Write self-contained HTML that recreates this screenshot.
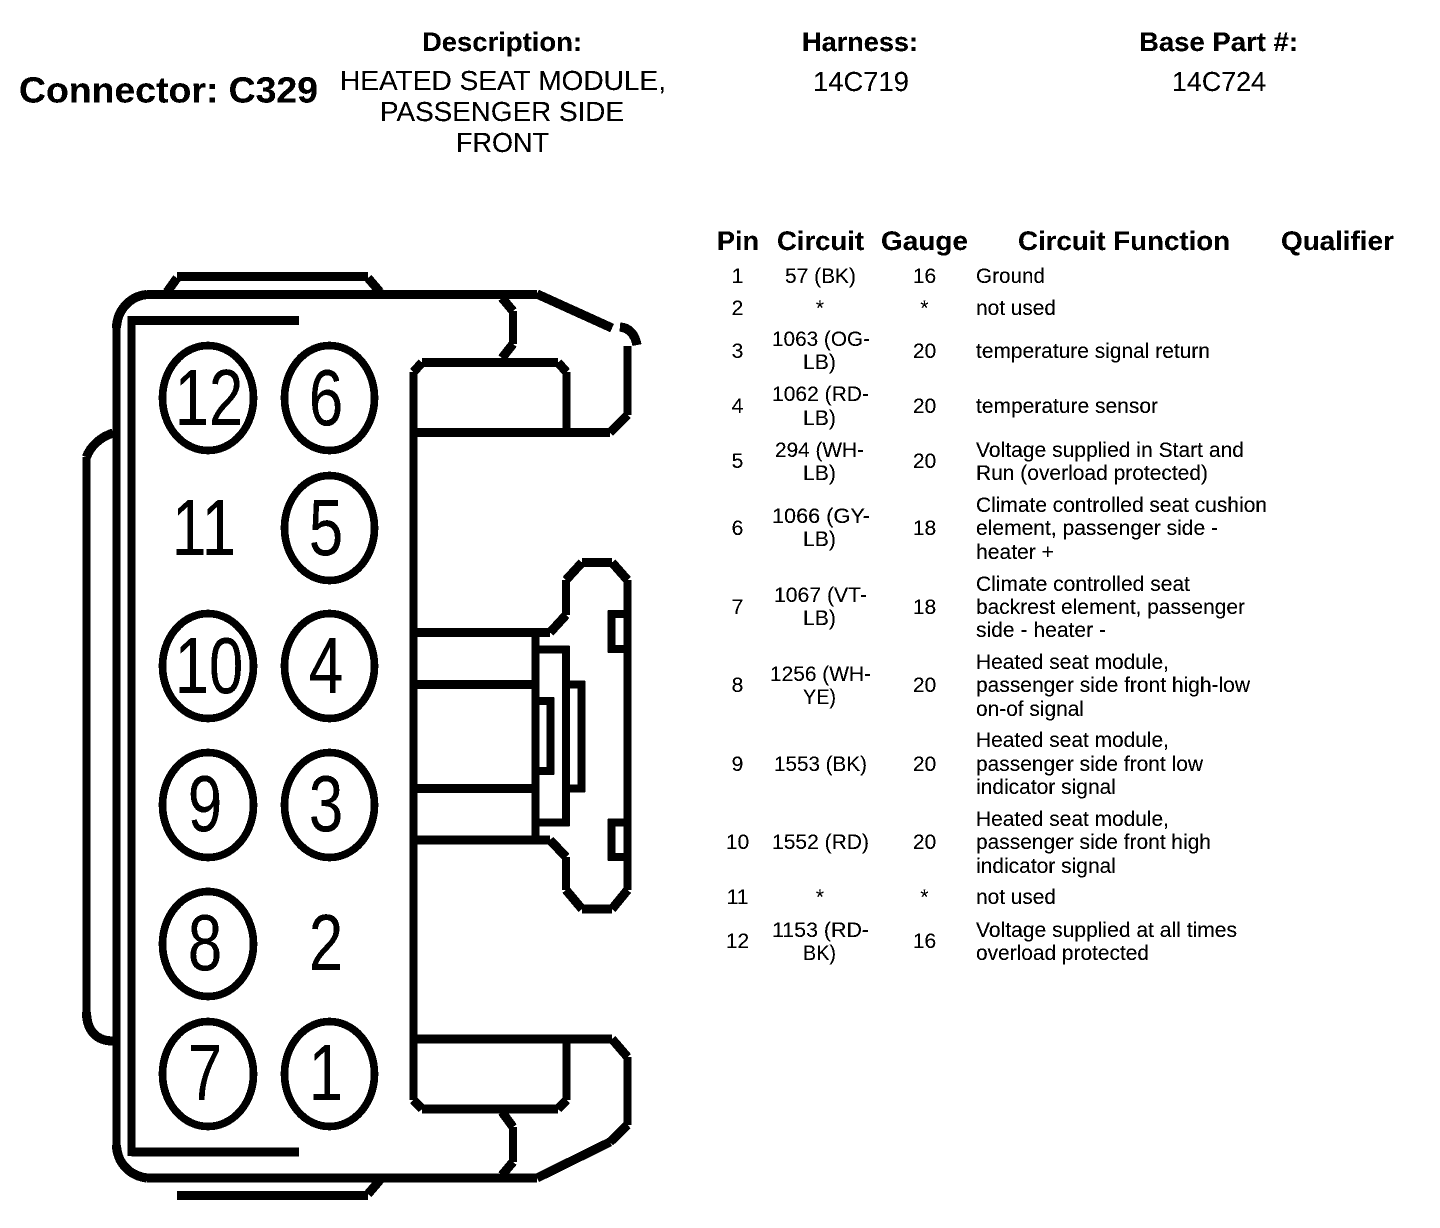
<!DOCTYPE html>
<html><head><meta charset="utf-8"><title>Connector C329</title>
<style>
html,body{margin:0;padding:0;background:#fff;width:1440px;height:1228px;overflow:hidden}
svg{display:block;filter:url(#bw)}
text{font-family:"Liberation Sans",Arial,sans-serif;fill:#000}
.b{font-weight:700}
.h{font-size:27px;font-weight:700}
.m{font-size:27.5px}
.t{font-size:21px}
.n{font-size:80px;text-anchor:middle}
.s{fill:none;stroke:#000;stroke-width:8}
.v{stroke-width:7.5}
.w{stroke-width:9}
</style></head><body>
<svg xmlns="http://www.w3.org/2000/svg" width="1440" height="1228" viewBox="0 0 1440 1228">
<defs><filter id="bw" x="0" y="0" width="100%" height="100%" color-interpolation-filters="sRGB"><feComponentTransfer><feFuncR type="discrete" tableValues="0 0 1"/><feFuncG type="discrete" tableValues="0 0 1"/><feFuncB type="discrete" tableValues="0 0 1"/></feComponentTransfer></filter></defs>
<rect width="1440" height="1228" fill="#fff"/>

<!-- Header -->
<text class="b" x="19" y="102.5" font-size="36" textLength="299" lengthAdjust="spacingAndGlyphs">Connector: C329</text>
<text class="h" x="422" y="51" textLength="160" lengthAdjust="spacingAndGlyphs">Description:</text>
<text class="h" x="802" y="51" textLength="116" lengthAdjust="spacingAndGlyphs">Harness:</text>
<text class="h" x="1139" y="51" textLength="159" lengthAdjust="spacingAndGlyphs">Base Part #:</text>
<text class="m" x="340" y="90" textLength="326" lengthAdjust="spacingAndGlyphs">HEATED SEAT MODULE,</text>
<text class="m" x="380" y="121" textLength="244" lengthAdjust="spacingAndGlyphs">PASSENGER SIDE</text>
<text class="m" x="456" y="152" textLength="93" lengthAdjust="spacingAndGlyphs">FRONT</text>
<text class="m" x="813" y="91" textLength="96" lengthAdjust="spacingAndGlyphs">14C719</text>
<text class="m" x="1172" y="91" textLength="94" lengthAdjust="spacingAndGlyphs">14C724</text>

<!-- Table head -->
<text class="h" x="717" y="250" textLength="42" lengthAdjust="spacingAndGlyphs">Pin</text>
<text class="h" x="777" y="250" textLength="87" lengthAdjust="spacingAndGlyphs">Circuit</text>
<text class="h" x="881" y="250" textLength="87" lengthAdjust="spacingAndGlyphs">Gauge</text>
<text class="h" x="1018" y="250" textLength="212" lengthAdjust="spacingAndGlyphs">Circuit Function</text>
<text class="h" x="1281" y="250" textLength="113" lengthAdjust="spacingAndGlyphs">Qualifier</text>

<!-- Pin column -->
<g class="t" text-anchor="middle">
<text class="t" x="737.5" y="283">1</text>
<text class="t" x="737.5" y="315">2</text>
<text class="t" x="737.5" y="358">3</text>
<text class="t" x="737.5" y="413">4</text>
<text class="t" x="737.5" y="468">5</text>
<text class="t" x="737.5" y="535">6</text>
<text class="t" x="737.5" y="614">7</text>
<text class="t" x="737.5" y="692">8</text>
<text class="t" x="737.5" y="771">9</text>
<text class="t" x="737.5" y="849">10</text>
<text class="t" x="737.5" y="904">11</text>
<text class="t" x="737.5" y="948">12</text>
</g>

<!-- Circuit column -->
<text class="t" x="785" y="283" textLength="71" lengthAdjust="spacingAndGlyphs">57 (BK)</text>
<text class="t" x="820" y="315" text-anchor="middle">*</text>
<text class="t" x="772" y="346" textLength="98" lengthAdjust="spacingAndGlyphs">1063 (OG-</text>
<text class="t" x="803" y="369" textLength="33" lengthAdjust="spacingAndGlyphs">LB)</text>
<text class="t" x="772" y="401" textLength="97" lengthAdjust="spacingAndGlyphs">1062 (RD-</text>
<text class="t" x="803" y="425" textLength="33" lengthAdjust="spacingAndGlyphs">LB)</text>
<text class="t" x="775" y="457" textLength="89" lengthAdjust="spacingAndGlyphs">294 (WH-</text>
<text class="t" x="803" y="480" textLength="33" lengthAdjust="spacingAndGlyphs">LB)</text>
<text class="t" x="772" y="523" textLength="98" lengthAdjust="spacingAndGlyphs">1066 (GY-</text>
<text class="t" x="803" y="546" textLength="33" lengthAdjust="spacingAndGlyphs">LB)</text>
<text class="t" x="774" y="602" textLength="93" lengthAdjust="spacingAndGlyphs">1067 (VT-</text>
<text class="t" x="803" y="625" textLength="33" lengthAdjust="spacingAndGlyphs">LB)</text>
<text class="t" x="770" y="681" textLength="101" lengthAdjust="spacingAndGlyphs">1256 (WH-</text>
<text class="t" x="803" y="704" textLength="33" lengthAdjust="spacingAndGlyphs">YE)</text>
<text class="t" x="774" y="771" textLength="93" lengthAdjust="spacingAndGlyphs">1553 (BK)</text>
<text class="t" x="772" y="849" textLength="97" lengthAdjust="spacingAndGlyphs">1552 (RD)</text>
<text class="t" x="820" y="904" text-anchor="middle">*</text>
<text class="t" x="772" y="937" textLength="97" lengthAdjust="spacingAndGlyphs">1153 (RD-</text>
<text class="t" x="803" y="960" textLength="33" lengthAdjust="spacingAndGlyphs">BK)</text>

<!-- Gauge column -->
<text class="t" x="924.5" y="283" text-anchor="middle">16</text>
<text class="t" x="924.5" y="315" text-anchor="middle">*</text>
<text class="t" x="924.5" y="358" text-anchor="middle">20</text>
<text class="t" x="924.5" y="413" text-anchor="middle">20</text>
<text class="t" x="924.5" y="468" text-anchor="middle">20</text>
<text class="t" x="924.5" y="535" text-anchor="middle">18</text>
<text class="t" x="924.5" y="614" text-anchor="middle">18</text>
<text class="t" x="924.5" y="692" text-anchor="middle">20</text>
<text class="t" x="924.5" y="771" text-anchor="middle">20</text>
<text class="t" x="924.5" y="849" text-anchor="middle">20</text>
<text class="t" x="924.5" y="904" text-anchor="middle">*</text>
<text class="t" x="924.5" y="948" text-anchor="middle">16</text>

<!-- Function column -->
<text class="t" x="976" y="283" textLength="69" lengthAdjust="spacingAndGlyphs">Ground</text>
<text class="t" x="976" y="315" textLength="80" lengthAdjust="spacingAndGlyphs">not used</text>
<text class="t" x="976" y="358" textLength="234" lengthAdjust="spacingAndGlyphs">temperature signal return</text>
<text class="t" x="976" y="413" textLength="182" lengthAdjust="spacingAndGlyphs">temperature sensor</text>
<text class="t" x="976" y="457" textLength="268" lengthAdjust="spacingAndGlyphs">Voltage supplied in Start and</text>
<text class="t" x="976" y="480" textLength="232" lengthAdjust="spacingAndGlyphs">Run (overload protected)</text>
<text class="t" x="976" y="512" textLength="291" lengthAdjust="spacingAndGlyphs">Climate controlled seat cushion</text>
<text class="t" x="976" y="535" textLength="242" lengthAdjust="spacingAndGlyphs">element, passenger side -</text>
<text class="t" x="976" y="559" textLength="78" lengthAdjust="spacingAndGlyphs">heater +</text>
<text class="t" x="976" y="591" textLength="214" lengthAdjust="spacingAndGlyphs">Climate controlled seat</text>
<text class="t" x="976" y="614" textLength="269" lengthAdjust="spacingAndGlyphs">backrest element, passenger</text>
<text class="t" x="976" y="637" textLength="130" lengthAdjust="spacingAndGlyphs">side - heater -</text>
<text class="t" x="976" y="669" textLength="193" lengthAdjust="spacingAndGlyphs">Heated seat module,</text>
<text class="t" x="976" y="692" textLength="274" lengthAdjust="spacingAndGlyphs">passenger side front high-low</text>
<text class="t" x="976" y="716" textLength="108" lengthAdjust="spacingAndGlyphs">on-of signal</text>
<text class="t" x="976" y="747" textLength="193" lengthAdjust="spacingAndGlyphs">Heated seat module,</text>
<text class="t" x="976" y="771" textLength="227" lengthAdjust="spacingAndGlyphs">passenger side front low</text>
<text class="t" x="976" y="794" textLength="140" lengthAdjust="spacingAndGlyphs">indicator signal</text>
<text class="t" x="976" y="826" textLength="193" lengthAdjust="spacingAndGlyphs">Heated seat module,</text>
<text class="t" x="976" y="849" textLength="235" lengthAdjust="spacingAndGlyphs">passenger side front high</text>
<text class="t" x="976" y="873" textLength="140" lengthAdjust="spacingAndGlyphs">indicator signal</text>
<text class="t" x="976" y="904" textLength="80" lengthAdjust="spacingAndGlyphs">not used</text>
<text class="t" x="976" y="937" textLength="261" lengthAdjust="spacingAndGlyphs">Voltage supplied at all times</text>
<text class="t" x="976" y="960" textLength="173" lengthAdjust="spacingAndGlyphs">overload protected</text>

<!-- Connector body: horizontal strokes -->
<g>
<path class="s w" d="M147 294.5H537"/>
<path class="s w" d="M147 1178H537"/>
<path class="s w" d="M131.5 320.5H299"/>
<path class="s w" d="M131.5 1152H299"/>
<path class="s w" d="M177 276.5H368"/>
<path class="s w" d="M177 1195.5H368"/>
<path class="s w" d="M422 362.5H558"/>
<path class="s w" d="M413.5 432.5H610"/>
<path class="s w" d="M413.5 1039H612"/>
<path class="s w" d="M422 1109H558"/>
<path class="s w" d="M413.5 632.5H550"/>
<path class="s w" d="M413.5 684.5H535"/>
<path class="s w" d="M413.5 788.5H535"/>
<path class="s w" d="M413.5 840H550"/>
<path class="s w" d="M582 562.5H612"/>
<path class="s w" d="M582 909H612"/>
<path class="s w" d="M537 294L612 328"/>
<path class="s w" d="M610 1142L537 1178"/>
</g>

<!-- Connector body: vertical strokes -->
<path class="s v" d="M116.5 328V1145"/>
<path class="s v" d="M131.5 316V1156"/>
<path class="s v" d="M86.5 457V1012"/>
<path class="s v" d="M413.5 1100V372"/>
<path class="s v" d="M566.5 372V432M566.5 1100V1039"/>
<path class="s v" d="M513 311V344M513 1127V1162"/>
<path class="s v" d="M627.5 346V415M627.5 1057V1125"/>
<path class="s v" d="M566 615V580M627.5 580V890M566 890V857"/>
<path class="s v" d="M535.5 632V840"/>
<path class="s v" d="M535 649.5H566V822.5H535"/>
<path class="s v" d="M566 684.5H581.5V788.5H566"/>
<path class="s v" d="M535 701H550.5V771H535"/>
<path class="s v" d="M627 614H611.5V649H627"/>
<path class="s v" d="M627 822.5H611.5V857H627"/>

<!-- Corners and diagonals, slightly heavier -->
<path class="s w" d="M147 294.5C130 296 117 310 116.5 328M116.5 1145C117 1163 130 1176 147 1178"/>
<path class="s w" d="M113 433C100 437 90 447 86.5 457M86.5 1012C86.5 1030 96 1041 113 1041"/>
<path class="s w" d="M167 292L177 278M368 278L380 292M368 1194L380 1180"/>
<path class="s w" d="M413.5 372L422 362.5M558 362.5L566.5 372M413.5 1100L422 1109M558 1109L566.5 1100"/>
<path class="s w" d="M502 298L513 311M513 344L502 358M502 1112L513 1127M513 1162L502 1175"/>
<path class="s w" d="M627.5 415L610 432.5M612 1039L627.5 1057M627.5 1125L610 1142"/>
<path class="s w" d="M620 327C630 328 635 335 637 345"/>
<path class="s w" d="M550 632.5L566 615M566 580L582 562.5M612 562.5L627.5 580M627.5 890L612 909M582 909L566 890M566 857L550 840"/>

<!-- Pin circles -->
<g fill="none" stroke="#000" stroke-width="7.5">
<ellipse cx="208" cy="398" rx="45.5" ry="52.5"/>
<ellipse cx="329.5" cy="398" rx="45" ry="52.5"/>
<ellipse cx="329.5" cy="528" rx="45" ry="52.5"/>
<ellipse cx="208" cy="666" rx="45.5" ry="52.5"/>
<ellipse cx="329.5" cy="666" rx="45" ry="52.5"/>
<ellipse cx="208" cy="805" rx="45.5" ry="52.5"/>
<ellipse cx="329.5" cy="805" rx="45" ry="52.5"/>
<ellipse cx="208" cy="944" rx="45.5" ry="52.5"/>
<ellipse cx="208" cy="1074" rx="45.5" ry="52.5"/>
<ellipse cx="329.5" cy="1074" rx="45" ry="52.5"/>
</g>

<!-- Pin numbers -->
<text class="n" transform="translate(209 425) scale(.77 1)">12</text>
<text class="n" transform="translate(326 425) scale(.77 1)">6</text>
<text class="n" transform="translate(204 555) scale(.77 1)">11</text>
<text class="n" transform="translate(326 555) scale(.77 1)">5</text>
<text class="n" transform="translate(209 693) scale(.77 1)">10</text>
<text class="n" transform="translate(326 693) scale(.77 1)">4</text>
<text class="n" transform="translate(205 831) scale(.77 1)">9</text>
<text class="n" transform="translate(326 831) scale(.77 1)">3</text>
<text class="n" transform="translate(205 970) scale(.77 1)">8</text>
<text class="n" transform="translate(326 970) scale(.77 1)">2</text>
<text class="n" transform="translate(205 1100) scale(.77 1)">7</text>
<text class="n" transform="translate(326 1100) scale(.77 1)">1</text>
</svg>
</body></html>
